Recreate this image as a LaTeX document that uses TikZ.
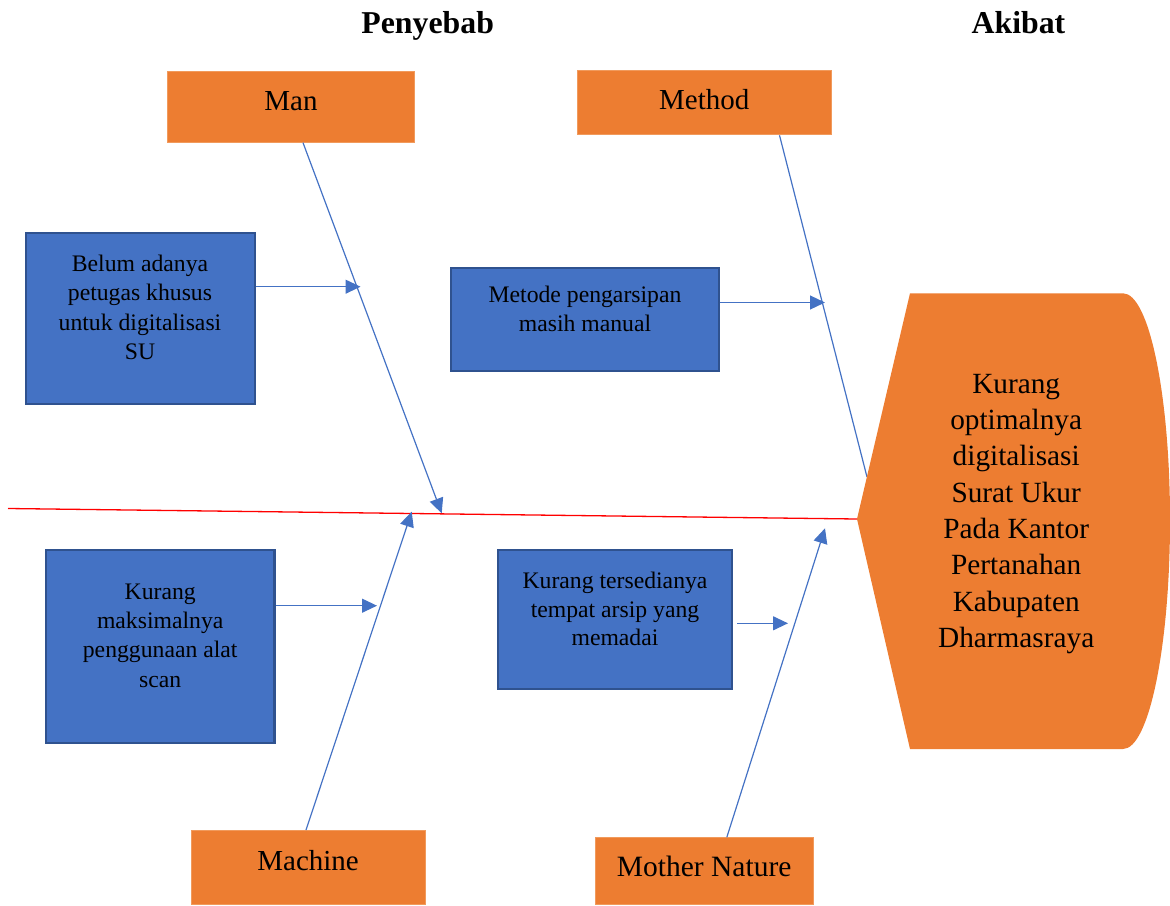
\documentclass[tikz,border=0pt]{standalone}
\usepackage{fontspec}
\setmainfont{Liberation Serif}
\usetikzlibrary{arrows.meta}
\definecolor{ora}{HTML}{ED7D31}
\definecolor{oraedge}{HTML}{F19A5C}
\definecolor{blu}{HTML}{4472C4}
\definecolor{bluedge}{HTML}{2F528F}
\definecolor{spinered}{HTML}{FF0000}
\begin{document}
\begin{tikzpicture}[x=1pt,y=-1pt,
  cause/.style={draw=oraedge, line width=0.8pt, fill=ora, inner sep=0pt},
  sub/.style={draw=bluedge, line width=2.2pt, fill=blu, inner sep=0pt},
  bone/.style={draw=blu, line width=1.2pt},
  arr/.style={bone, -{Triangle[length=15pt,width=14pt]}},
  spine/.style={draw=spinered, line width=1.3pt},
  lab/.style={font=\fontsize{29}{35}\selectfont, inner sep=0pt, anchor=base},
  subtxt/.style={font=\fontsize{23.7}{29.4}\selectfont, inner sep=0pt, align=center, anchor=north},
  title/.style={font=\fontsize{31.8}{38}\selectfont\bfseries, inner sep=0pt, anchor=base}
]
\useasboundingbox (0,0) rectangle (1170,905);

% titles
\node[title] (peny) at (427.7,33.3) {Penyebab};
\node[title] (akib) at (1018.5,33.3) {Akibat};

% category boxes
\node[cause, minimum width=247pt, minimum height=71pt] (man) at (291,106.9) {};
\node[cause, minimum width=253.5pt, minimum height=64pt] (method) at (704.2,102.8) {};
\node[cause, minimum width=234pt, minimum height=74pt] (machine) at (308.1,867.5) {};
\node[cause, minimum width=217.5pt, minimum height=67pt] (mother) at (704.2,871) {};
\node[lab] (manL) at (291,110) {Man};
\node[lab] (methodL) at (704.2,109.3) {Method};
\node[lab] (machineL) at (308.1,870) {Machine};
\node[lab, font=\fontsize{29.5}{36}\selectfont] (motherL) at (704.2,876.7) {Mother Nature};

% sub-cause boxes
\node[sub, minimum width=229pt, minimum height=171pt] (b1) at (140.5,318.5) {};
\node[sub, minimum width=268pt, minimum height=103pt] (b2) at (585,319.2) {};
\node[sub, minimum width=228.7pt, minimum height=193.3pt] (b3) at (160.2,646.3) {};
\node[sub, minimum width=234pt, minimum height=138.7pt] (b4) at (614.7,619.7) {};
\node[subtxt] (b1t) at (140,254.8) {Belum adanya\\petugas khusus\\untuk digitalisasi\\SU};
\node[subtxt] (b2t) at (585,285.5) {Metode pengarsipan\\masih manual};
\node[subtxt] (b3t) at (160.2,583.3) {Kurang\\maksimalnya\\penggunaan alat\\scan};
\node[subtxt, font=\fontsize{23.7}{28.6}\selectfont] (b4t) at (615,572.1) {Kurang tersedianya\\tempat arsip yang\\memadai};

% coordinates
\coordinate (spineS) at (8,508.5);
\coordinate (headtip) at (857,519);
\coordinate (manS) at (303,142.7);
\coordinate (manT) at (441.7,513.3);
\coordinate (machS) at (306,830);
\coordinate (machT) at (411.7,511.7);
\coordinate (methS) at (779.5,135.3);
\coordinate (methE) at (867,477);
\coordinate (motS) at (726.8,837.3);
\coordinate (motT) at (825,528.3);
\coordinate (t1) at (360.5,286.7);
\coordinate (t2) at (825,302.5);
\coordinate (t3) at (377,605.7);
\coordinate (s4) at (737.3,623.3);
\coordinate (t4) at (788,623.3);

% spine and bones
\draw[spine] (spineS) -- (headtip);
\draw[arr] (manS) -- (manT);
\draw[arr] (machS) -- (machT);
\draw[bone] (methS) -- (methE);
\draw[arr] (motS) -- (motT);
\draw[arr] (b1.east |- t1) -- (t1);
\draw[arr] (b2.east |- t2) -- (t2);
\draw[arr] (b3.east |- t3) -- (t3);
\draw[arr] (s4) -- (t4);

% head (effect)
\fill[ora] (headtip) -- (910,293.3) -- (1123,293.3)
  .. controls (1149,293.3) and (1170,395) .. (1170,520)
  .. controls (1170,646) and (1149,749) .. (1123,749)
  -- (910,749) -- cycle;
\node[font=\fontsize{29.3}{36.3}\selectfont, inner sep=0pt, align=center, anchor=north] (headL) at (1016.2,373.9)
  {Kurang\\optimalnya\\digitalisasi\\Surat Ukur\\Pada Kantor\\Pertanahan\\Kabupaten\\Dharmasraya};
\end{tikzpicture}
\end{document}
